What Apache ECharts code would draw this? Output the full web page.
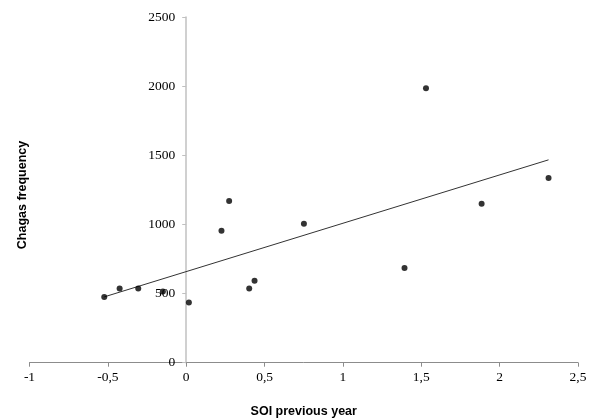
<!DOCTYPE html>
<html>
<head>
<meta charset="utf-8">
<script src="https://cdn.jsdelivr.net/npm/echarts@6/dist/echarts.min.js"></script>
<style>html,body{margin:0;padding:0;background:#fff}#c{width:589px;height:418px}</style>
</head>
<body>
<div id="c"></div>
<script>
const soiValues = [-0.523, -0.425, -0.306, -0.149, 0.017, 0.225, 0.274, 0.402, 0.436, 0.751, 1.393, 1.530, 1.885, 2.312];
const chagasValues = [476, 536, 536, 514, 435, 954, 1169, 536, 592, 1005, 684, 1985, 1150, 1336];
const trendX = [-0.523, 2.312];
const trendY = [476, 1467];
const xTitle = 'SOI previous year';
const yTitle = 'Chagas frequency';

const points = soiValues.map((x, i) => [x, chagasValues[i]]);
const trend = trendX.map((x, i) => [x, trendY[i]]);

const gridLeft = 29.5, gridRight = 11;
const plotW = 589 - gridLeft - gridRight;
const zeroOffset = plotW * (0 - (-1)) / 3.5;

const chart = echarts.init(document.getElementById('c'), null, {renderer: 'canvas'});
const labelFont = {fontFamily: '"Liberation Serif", "Times New Roman", serif', fontSize: 13.5, color: '#000'};
chart.setOption({
  animation: false,
  backgroundColor: '#fff',
  grid: {left: gridLeft, right: gridRight, top: 17, bottom: 55.3, containLabel: false, outerBoundsMode: 'none'},
  xAxis: {
    type: 'value', min: -1, max: 2.5, interval: 0.5,
    name: xTitle, nameLocation: 'middle', nameGap: 42,
    nameTextStyle: {fontFamily: '"Liberation Sans", Arial, sans-serif', fontWeight: 'bold', fontSize: 12.5, color: '#000'},
    axisLine: {onZero: false, lineStyle: {color: '#8c8c8c', width: 1}},
    axisTick: {show: true, inside: false, length: 4, lineStyle: {color: '#8c8c8c'}},
    axisLabel: Object.assign({margin: 8, formatter: v => String(v).replace('.', ',')}, labelFont),
    splitLine: {show: false}
  },
  yAxis: {
    type: 'value', min: 0, max: 2500, interval: 500,
    position: 'left', offset: -zeroOffset,
    axisLine: {show: true, onZero: false, lineStyle: {color: '#c0c0c0', width: 1.5}},
    axisTick: {show: true, inside: false, length: 4, lineStyle: {color: '#c0c0c0'}},
    axisLabel: Object.assign({margin: 11, formatter: v => String(v)}, labelFont),
    splitLine: {show: false}
  },
  graphic: [{
    type: 'text', rotation: Math.PI / 2,
    style: {text: yTitle, fontFamily: '"Liberation Sans", Arial, sans-serif', fontWeight: 'bold', fontSize: 12.5, fill: '#000', textAlign: 'center', textVerticalAlign: 'middle'},
    x: 23, y: 195
  }],
  series: [
    {type: 'line', data: trend, symbol: 'none', lineStyle: {color: '#333', width: 1}, z: 2},
    {type: 'scatter', data: points, symbol: 'circle', symbolSize: 6, itemStyle: {color: '#000'}, z: 3}
  ]
});
</script>
</body>
</html>
